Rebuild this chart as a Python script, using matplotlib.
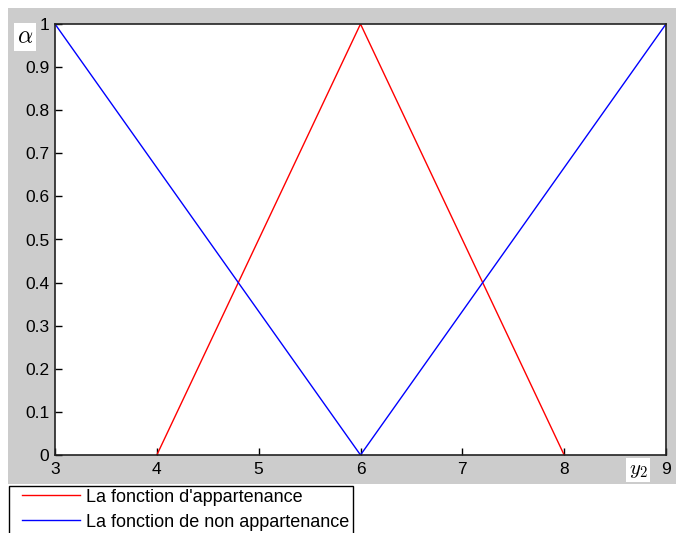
import matplotlib
matplotlib.use("Agg")
import matplotlib.pyplot as plt
from matplotlib.patches import Rectangle

# Membership function data (triangular)
x_member = [4, 6, 8]
y_member = [0, 1, 0]
x_nonmember = [3, 6, 9]
y_nonmember = [1, 0, 1]

x_ticks = [3, 4, 5, 6, 7, 8, 9]
y_ticks = [0, 0.1, 0.2, 0.3, 0.4, 0.5, 0.6, 0.7, 0.8, 0.9, 1]
y_ticklabels = ["0", "0.1", "0.2", "0.3", "0.4", "0.5", "0.6", "0.7", "0.8", "0.9", "1"]

legend_labels = ["La fonction d'appartenance", "La fonction de non appartenance"]

W, H = 676, 533
plt.rcParams["font.family"] = ["Liberation Sans", "DejaVu Sans"]
plt.rcParams["mathtext.fontset"] = "cm"
fig = plt.figure(figsize=(W / 100, H / 100), dpi=100)
fig.patch.set_facecolor("white")

# grey figure panel behind the axes
fig.patches.append(Rectangle((8 / W, (H - 484) / H), (W - 8) / W, (484 - 8) / H,
                             transform=fig.transFigure, facecolor="#cccccc",
                             edgecolor="none", zorder=-10))

ax = fig.add_axes([55 / W, (H - 455) / H, 611 / W, (455 - 24) / H])
ax.set_facecolor("white")

l1, = ax.plot(x_member, y_member, color="red", lw=1)
l2, = ax.plot(x_nonmember, y_nonmember, color="blue", lw=1)

ax.set_xlim(3, 9)
ax.set_ylim(0, 1)
ax.set_xticks(x_ticks)
ax.set_yticks(y_ticks)
ax.set_yticklabels(y_ticklabels)
ax.tick_params(direction="in", length=5, width=1, labelsize=12.5, pad=4,
               top=False, right=False, colors="black")
ax.tick_params(axis="x", pad=5)
for s in ax.spines.values():
    s.set_linewidth(1.2)
    s.set_color("#222222")

# axis symbols in white boxes
fig.text(25 / W, 1 - 37 / H, r"$\alpha$", fontsize=17, ha="center", va="center",
         bbox=dict(facecolor="white", edgecolor="none", pad=2))
fig.text(638 / W, 1 - 470 / H, r"$y_2$", fontsize=15, ha="center", va="center",
         bbox=dict(facecolor="white", edgecolor="none", pad=1.5))

# legend box (runs past the lower edge of the figure)
fig.patches.append(Rectangle((9 / W, -10 / H), 344 / W, (H - 485.5 + 10) / H,
                             transform=fig.transFigure, facecolor="white",
                             edgecolor="black", linewidth=1, zorder=5))

leg = fig.legend([l1, l2], legend_labels, loc="upper left",
                 bbox_to_anchor=(22 / W, (H - 488.5) / H), fontsize=13,
                 frameon=False, handlelength=3.2,
                 handletextpad=0.33, borderpad=0, labelspacing=0.46,
                 borderaxespad=0)
leg.set_zorder(6)

fig.savefig("out.png", dpi=100)
